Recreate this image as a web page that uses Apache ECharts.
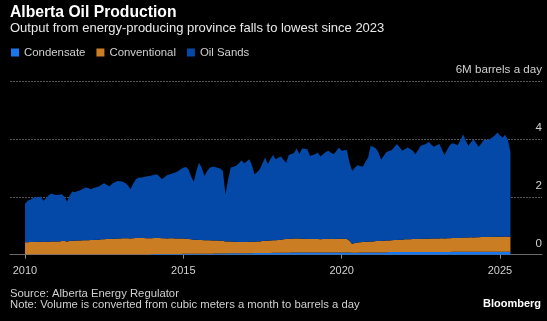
<!DOCTYPE html>
<html>
<head>
<meta charset="utf-8">
<script src="https://cdn.jsdelivr.net/npm/echarts@6/dist/echarts.min.js"></script>
<style>
html,body{margin:0;padding:0;background:#000;}
#chart{width:547px;height:321px;}
</style>
</head>
<body>
<div id="chart"></div>
<script>
// Monthly data, Jan 2010 .. May 2025 (million barrels a day)
const startYear = 2010;
const condensate = [
  .01,.01,.01,.01,.01,.01,.01,.01,.01,.01,.01,.01,
  .01,.01,.01,.01,.01,.01,.01,.01,.01,.01,.01,.01,
  .01,.01,.01,.01,.01,.01,.01,.01,.01,.01,.01,.01,
  .01,.01,.01,.01,.01,.01,.01,.01,.01,.01,.01,.01,
  .02,.02,.02,.02,.02,.02,.02,.02,.02,.02,.02,.02,
  .03,.03,.03,.03,.03,.03,.03,.03,.03,.03,.03,.03,
  .04,.04,.04,.04,.04,.05,.05,.05,.05,.05,.05,.05,
  .05,.05,.05,.06,.06,.06,.06,.06,.06,.06,.07,.07,
  .07,.07,.07,.07,.07,.08,.08,.08,.08,.08,.08,.08,
  .08,.08,.08,.08,.08,.08,.08,.08,.08,.08,.08,.08,
  .08,.08,.08,.08,.07,.07,.07,.08,.08,.08,.08,.08,
  .08,.08,.08,.08,.08,.08,.09,.09,.09,.09,.09,.09,
  .09,.09,.09,.09,.09,.09,.09,.09,.09,.09,.09,.09,
  .09,.09,.09,.09,.09,.09,.10,.10,.10,.10,.10,.10,
  .10,.10,.10,.10,.10,.10,.10,.10,.10,.10,.10,.10,
  .10,.10,.10,.10,.10
];
const conventional = [
  .42,.42,.43,.43,.43,.44,.44,.43,.44,.44,.45,.45,
  .45,.45,.46,.46,.45,.46,.47,.47,.48,.48,.49,.49,
  .49,.50,.50,.51,.51,.52,.52,.53,.53,.54,.54,.55,
  .55,.56,.56,.56,.55,.56,.57,.57,.57,.57,.56,.56,
  .55,.56,.56,.56,.55,.55,.54,.55,.55,.54,.54,.54,
  .53,.52,.51,.50,.49,.49,.48,.48,.47,.47,.47,.46,
  .45,.45,.44,.44,.42,.41,.41,.40,.40,.39,.39,.39,
  .39,.40,.40,.39,.40,.40,.41,.42,.42,.43,.43,.43,
  .44,.45,.46,.47,.48,.47,.48,.48,.48,.47,.47,.46,
  .46,.46,.46,.46,.45,.46,.46,.47,.46,.46,.47,.47,
  .47,.47,.46,.40,.30,.33,.35,.35,.36,.37,.37,.38,
  .38,.39,.39,.39,.40,.41,.40,.41,.42,.42,.43,.43,
  .44,.44,.44,.45,.45,.45,.46,.46,.46,.46,.47,.47,
  .47,.47,.48,.47,.48,.48,.48,.48,.48,.48,.49,.49,
  .49,.50,.49,.50,.50,.51,.51,.51,.51,.52,.52,.52,
  .52,.52,.53,.52,.51
];
const oilSands = [
  1.33,1.43,1.46,1.51,1.56,1.53,1.56,1.42,1.50,1.60,1.65,1.62,
  1.60,1.61,1.62,1.53,1.37,1.58,1.70,1.68,1.71,1.74,1.78,1.82,
  1.80,1.75,1.79,1.81,1.84,1.89,1.94,1.88,1.82,1.90,1.95,1.99,
  1.98,1.95,1.91,1.83,1.70,1.88,2.02,2.09,2.08,2.10,2.13,2.15,
  2.17,2.18,2.20,2.12,2.04,2.11,2.19,2.21,2.24,2.28,2.32,2.39,
  2.44,2.48,2.41,2.17,2.00,2.38,2.67,2.49,2.22,2.38,2.50,2.55,
  2.54,2.51,2.50,2.42,1.63,2.14,2.55,2.59,2.62,2.71,2.82,2.72,
  2.78,2.85,2.65,2.33,2.39,2.49,2.68,2.88,2.65,2.81,2.94,2.80,
  2.84,2.87,2.75,2.64,2.89,2.93,2.95,3.11,2.91,3.12,3.11,3.10,
  2.87,2.90,2.93,2.99,2.86,2.93,3.01,3.04,2.98,2.93,3.03,3.15,
  3.04,3.06,3.08,2.70,2.53,2.60,2.67,2.63,2.60,2.75,2.91,3.30,
  3.26,3.20,3.06,2.81,2.94,3.06,3.09,3.12,3.21,3.31,3.18,3.07,
  3.12,3.17,3.12,3.05,2.93,3.08,3.21,3.25,3.27,3.35,3.24,3.17,
  3.22,3.26,3.08,2.88,3.05,3.21,3.27,3.24,3.20,3.37,3.57,3.36,
  3.17,3.28,3.40,3.25,3.13,3.24,3.36,3.35,3.38,3.43,3.50,3.60,
  3.50,3.43,3.51,3.36,2.94
];
const xTickYears = [2010, 2015, 2020, 2025];
const yTicks = [0, 2, 4, 6];
const seriesNames = ['Condensate', 'Conventional', 'Oil Sands'];
const colors = ['#1877ec', '#cb7d23', '#0449a8'];

const FONT = '"Liberation Sans", Arial, sans-serif';
const monthTime = i => Date.UTC(startYear + Math.floor(i / 12), i % 12, 1);
const toPairs = arr => arr.map((v, i) => [monthTime(i), v]);

// axis range (shared by the hidden time axis and the visible year axis)
const rangeStart = Date.UTC(2009, 6, 12), rangeEnd = Date.UTC(2026, 3, 30);
const yearOf = t => 1970 + t / (365.2425 * 86400000);

const chart = echarts.init(document.getElementById('chart'), null, {renderer: 'canvas'});
const mkSeries = (name, data, color) => ({
  name, type: 'line', stack: 'total', data: toPairs(data), xAxisIndex: 0,
  showSymbol: false, symbol: 'none', smooth: false,
  lineStyle: {width: 0}, areaStyle: {color, opacity: 1},
  itemStyle: {color}, emphasis: {disabled: true}
});
const txt = (size, color, weight) => ({color, fontSize: size, fontWeight: weight || 'normal',
  fontFamily: FONT, lineHeight: size});

chart.setOption({
  backgroundColor: '#000',
  animation: false,
  color: colors,
  title: [
    {text: 'Alberta Oil Production', left: 10, top: 4.5, padding: 0,
     textStyle: txt(15.7, '#fff', 'bold')},
    {text: 'Output from energy-producing province falls to lowest since 2023', left: 10, top: 21.5, padding: 0,
     textStyle: txt(13, '#e8e8e8')},
    {text: 'Source: Alberta Energy Regulator', left: 10, top: 288.5, padding: 0,
     textStyle: txt(11.3, '#d0d0d0')},
    {text: 'Note: Volume is converted from cubic meters a month to barrels a day', left: 10, top: 299.5, padding: 0,
     textStyle: txt(11.3, '#d0d0d0')},
    {text: 'Bloomberg', right: 6, top: 298, padding: 0,
     textStyle: txt(11, '#fff', 'bold')}
  ],
  legend: {
    left: 6, top: 42, icon: 'rect', itemWidth: 8, itemHeight: 8, itemGap: 11,
    data: seriesNames,
    textStyle: {color: '#d0d0d0', fontSize: 11.4, fontFamily: FONT},
    selectedMode: false
  },
  grid: {left: 10, right: 5, top: 81, bottom: 66.3, containLabel: false},
  xAxis: [
    {type: 'time', min: rangeStart, max: rangeEnd, show: false, position: 'bottom'},
    {type: 'value', min: yearOf(rangeStart), max: yearOf(rangeEnd), position: 'bottom',
     axisLine: {show: true, onZero: false, lineStyle: {color: '#6a6a6a', width: 1}},
     axisTick: {show: true, length: 4, lineStyle: {color: '#8a8a8a'}, customValues: xTickYears},
     axisLabel: {color: '#d0d0d0', fontSize: 11, fontFamily: FONT, margin: 11,
       customValues: xTickYears, formatter: v => String(Math.round(v))},
     splitLine: {show: false}}
  ],
  yAxis: {
    type: 'value', position: 'right', min: 0, max: 6, interval: 2,
    axisLine: {show: false}, axisTick: {show: false},
    axisLabel: {inside: true, margin: 0, color: '#d0d0d0', fontSize: 11.6, fontFamily: FONT,
      verticalAlign: 'bottom', lineHeight: 12, padding: [0, 0, 5, 0],
      formatter: v => (v === 6 ? '6M barrels a day' : String(v))},
    splitLine: {show: true, lineStyle: {color: '#555', type: [2, 1], width: 1}}
  },
  series: [
    mkSeries(seriesNames[0], condensate, colors[0]),
    mkSeries(seriesNames[1], conventional, colors[1]),
    mkSeries(seriesNames[2], oilSands, colors[2])
  ]
});
</script>
</body>
</html>
